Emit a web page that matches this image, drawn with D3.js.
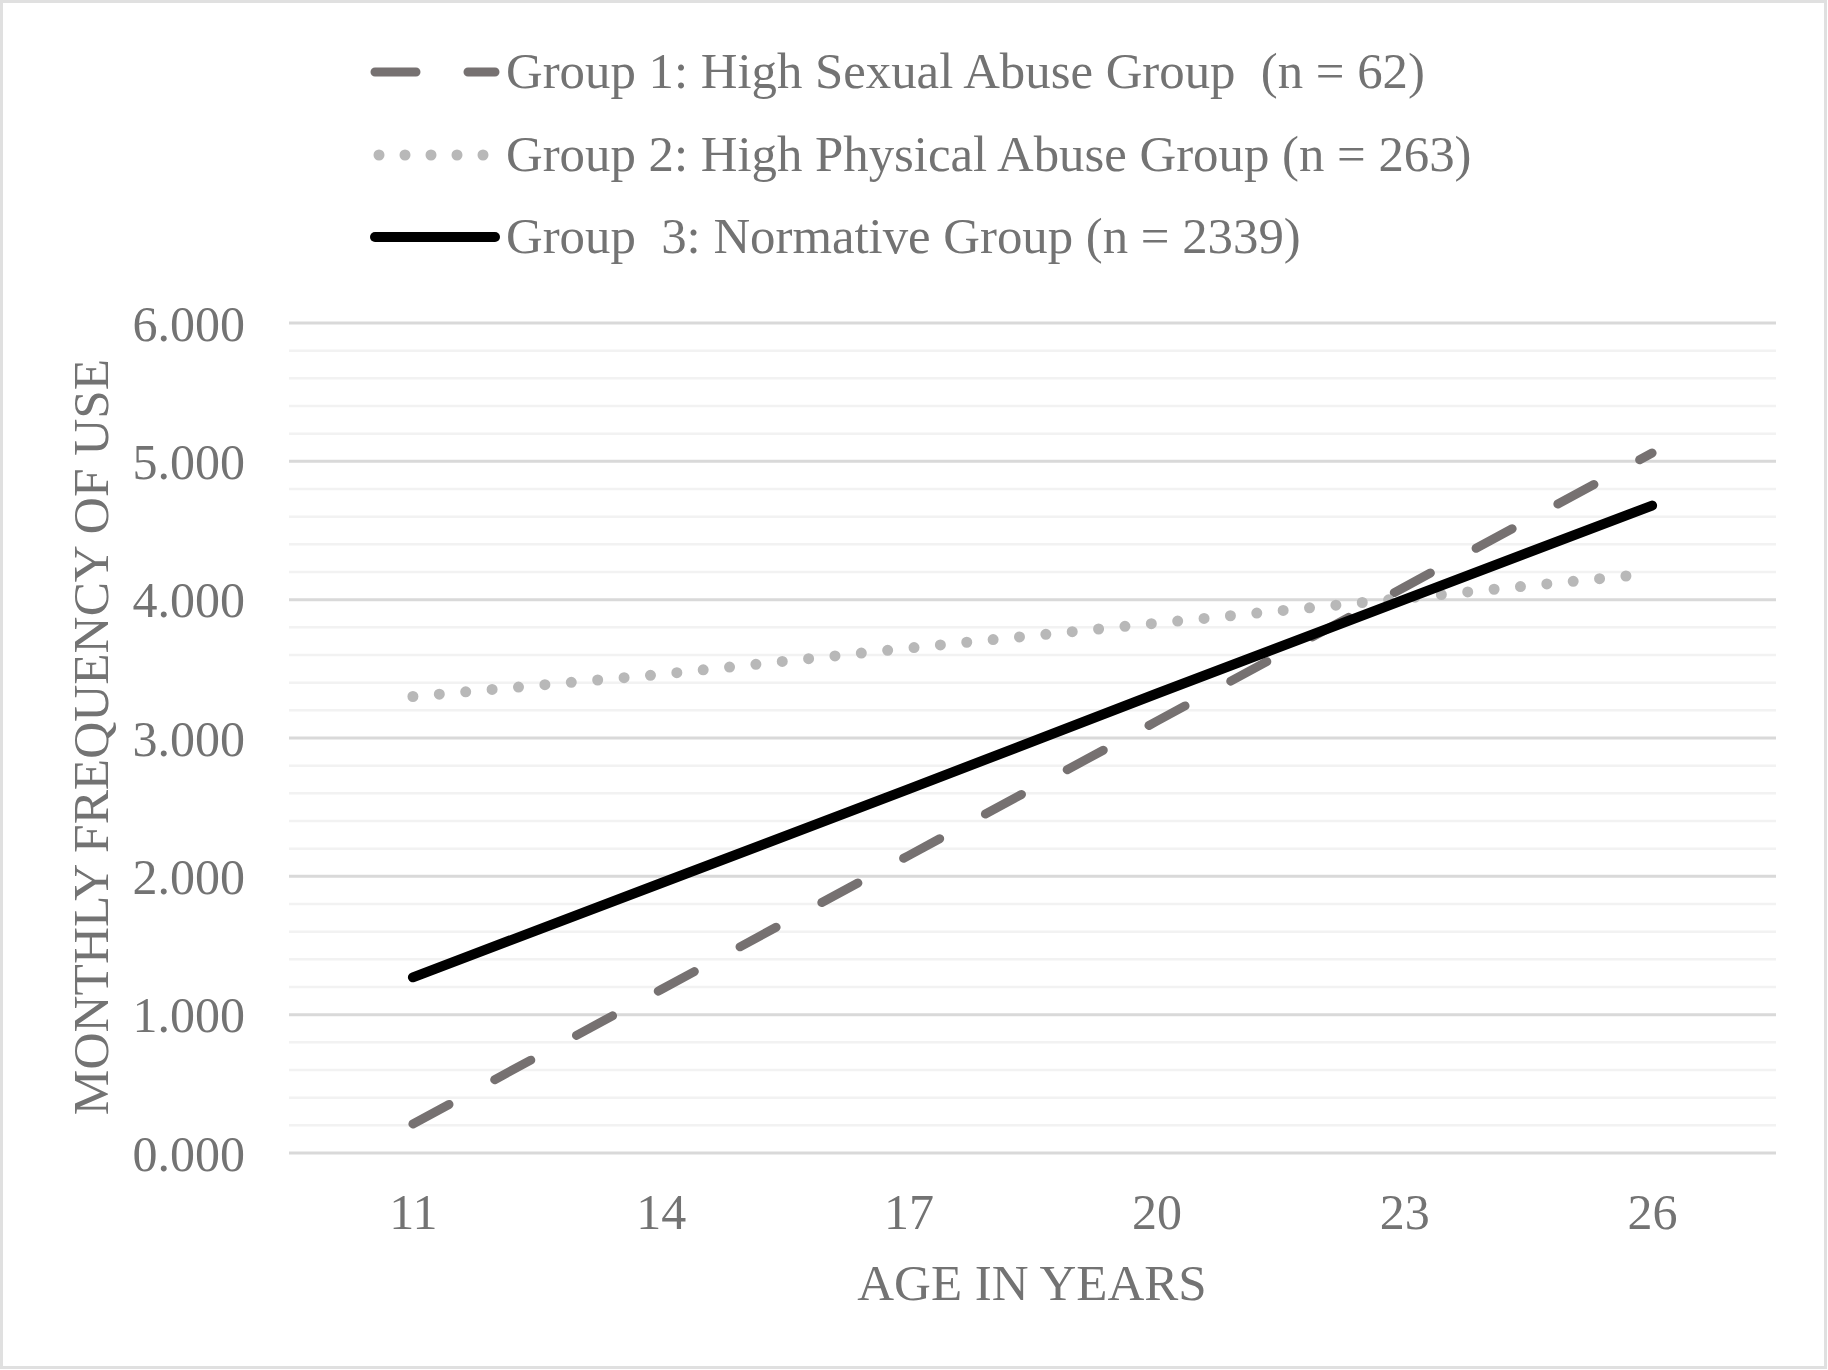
<!DOCTYPE html>
<html>
<head>
<meta charset="utf-8">
<script src="https://cdn.jsdelivr.net/npm/d3@7"></script>
<style>
  body { margin: 0; background: #fff; }
  svg text { font-family: "Liberation Serif", "Times New Roman", serif; fill: #737373; white-space: pre; }
</style>
</head>
<body>
<svg id="chart" width="1828" height="1370"></svg>
<script>

// ages on the x axis
var ages = [11, 14, 17, 20, 23, 26];

// monthly frequency of use
var group1 = [0.21, 1.18, 2.15, 3.12, 4.09, 5.06];
var group2 = [3.30, 3.46, 3.65, 3.83, 4.01, 4.19];
var group3 = [1.27, 1.95, 2.63, 3.32, 4.00, 4.68];

var seriesNames = [
    "Group 1: High Sexual Abuse Group  (n = 62)",
    "Group 2: High Physical Abuse Group (n = 263)",
    "Group  3: Normative Group (n = 2339)"
];

var yTicks = [0, 1, 2, 3, 4, 5, 6];

var svg,
    x,
    y,
    line,
    series,
    plot,
    legend;

svg = d3.select("#chart");

// outer frame
svg.append("rect")
    .attr("x", 1.5)
    .attr("y", 1.5)
    .attr("width", 1824)
    .attr("height", 1366)
    .attr("fill", "#fff")
    .attr("stroke", "#e0e0e0")
    .attr("stroke-width", 3);

x = d3.scalePoint()
    .domain(ages)
    .range([289, 1776])
    .padding(0.5);

y = d3.scaleLinear()
    .domain([0, 6])
    .range([1153, 323]);

plot = svg.append("g");

// minor gridlines every 0.2
plot.selectAll("line.minor")
    .data(d3.range(0, 30).map(function(i) { return i * 0.2; }).filter(function(v) {
        return Math.abs(v - Math.round(v)) > 1e-6;
    }))
    .enter().append("line")
    .attr("class", "minor")
    .attr("x1", 289).attr("x2", 1776)
    .attr("y1", function(d) { return y(d); })
    .attr("y2", function(d) { return y(d); })
    .attr("stroke", "#f2f2f2")
    .attr("stroke-width", 2.5);

// major gridlines
plot.selectAll("line.major")
    .data(yTicks)
    .enter().append("line")
    .attr("class", "major")
    .attr("x1", 289).attr("x2", 1776)
    .attr("y1", function(d) { return y(d); })
    .attr("y2", function(d) { return y(d); })
    .attr("stroke", "#d9d9d9")
    .attr("stroke-width", 3);

// y axis labels
var yAxis = svg.append("g")
    .attr("transform", "translate(245,0)")
    .call(d3.axisLeft(y).tickValues(yTicks).tickSize(0).tickPadding(0)
        .tickFormat(d3.format(".3f")));
yAxis.select(".domain").remove();
yAxis.selectAll("text")
    .attr("font-size", 50)
    .attr("dy", "0.34em")
    .style("fill", "#737373")
    .style("font-family", "\"Liberation Serif\", serif");

// x axis labels
var xAxis = svg.append("g")
    .attr("transform", "translate(0,1229)")
    .call(d3.axisBottom(x).tickSize(0).tickPadding(0));
xAxis.select(".domain").remove();
xAxis.selectAll("text")
    .attr("font-size", 50)
    .attr("dy", 0)
    .attr("y", 0)
    .style("fill", "#737373")
    .style("font-family", "\"Liberation Serif\", serif");

// axis titles
svg.append("text")
    .attr("x", 1032)
    .attr("y", 1300)
    .attr("text-anchor", "middle")
    .attr("font-size", 51)
    .text("AGE IN YEARS");

svg.append("text")
    .attr("transform", "translate(108,737) rotate(-90)")
    .attr("text-anchor", "middle")
    .attr("font-size", 51.3)
    .text("MONTHLY FREQUENCY OF USE");

// series
line = d3.line()
    .x(function(d) { return x(d.age); })
    .y(function(d) { return y(d.value); });

series = [
    { name: seriesNames[0], values: group1, color: "#767171", width: 9, dash: "41,52" },
    { name: seriesNames[1], values: group2, color: "#b8b8b8", width: 11, dash: "0,26.5" },
    { name: seriesNames[2], values: group3, color: "#000000", width: 10, dash: null }
];

series.forEach(function(s) {
    var pts = ages.map(function(a, i) { return { age: a, value: s.values[i] }; });
    plot.append("path")
        .datum(pts)
        .attr("d", line)
        .attr("fill", "none")
        .attr("stroke", s.color)
        .attr("stroke-width", s.width)
        .attr("stroke-linecap", "round")
        .attr("stroke-linejoin", "round")
        .attr("stroke-dasharray", s.dash);
});

// legend
var legendRows = [72, 155, 237];

legend = svg.append("g");

series.forEach(function(s, i) {
    var g = legend.append("g").attr("transform", "translate(0," + legendRows[i] + ")");
    var x1 = s.dash === "0,26.5" ? 379 : 375;
    g.append("line")
        .attr("x1", x1).attr("x2", 495)
        .attr("y1", 0).attr("y2", 0)
        .attr("stroke", s.color)
        .attr("stroke-width", s.width)
        .attr("stroke-linecap", "round")
        .attr("stroke-dasharray", s.dash === "0,26.5" ? "0,26" : s.dash);
    g.append("text")
        .attr("x", 506)
        .attr("y", 16)
        .attr("font-size", 50.8)
        .text(s.name);
});

</script>
</body>
</html>
